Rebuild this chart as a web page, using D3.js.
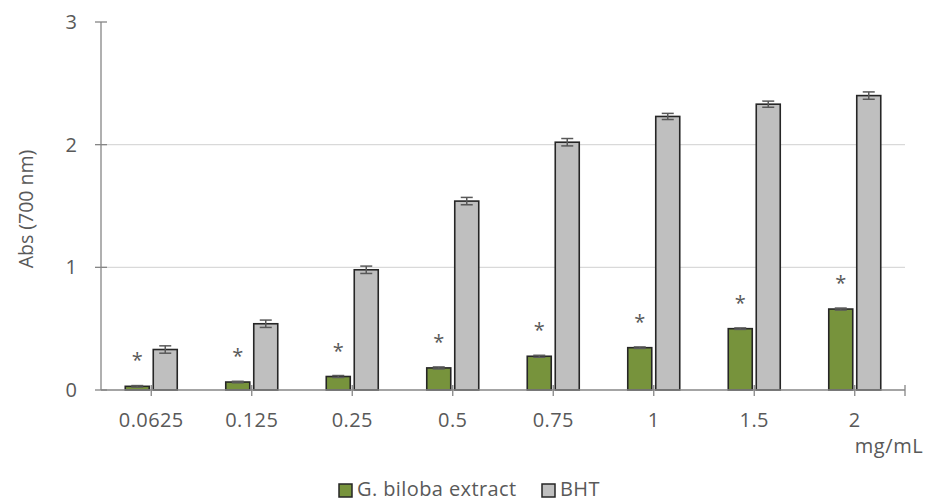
<!DOCTYPE html>
<html>
<head>
<meta charset="utf-8">
<script src="https://cdn.jsdelivr.net/npm/d3@7"></script>
<style>
  html, body { margin: 0; padding: 0; background: #fff; }
  svg { display: block; }
  text { font-family: "Open Sans", "DejaVu Sans", sans-serif; fill: #595959; }
</style>
</head>
<body>
<svg id="chart" width="929" height="501"></svg>
<script>
// Concentrations tested
const categories = ["0.0625", "0.125", "0.25", "0.5", "0.75", "1", "1.5", "2"];
// Reducing power, absorbance at 700 nm
const seriesNames = ["G. biloba extract", "BHT"];
const gbilobaValues = [0.03, 0.065, 0.11, 0.18, 0.275, 0.345, 0.50, 0.66];
const gbilobaErrors = [0.006, 0.006, 0.008, 0.008, 0.008, 0.006, 0.006, 0.008];
const bhtValues = [0.33, 0.54, 0.98, 1.54, 2.02, 2.23, 2.33, 2.40];
const bhtErrors = [0.03, 0.03, 0.03, 0.03, 0.03, 0.025, 0.025, 0.03];
// Significance marks placed over the extract bars
const markLabels = ["*", "*", "*", "*", "*", "*", "*", "*"];
const yTicks = [0, 1, 2, 3];
const colors = ["#77933C", "#BFBFBF"];

const svg = d3.select("#chart");
const plotLeft = 101, plotRight = 905, plotTop = 22, plotBottom = 390;

const x0 = d3.scaleBand().domain(categories).range([plotLeft, plotRight]).padding(0);
const bw = x0.bandwidth();
const x1 = d3.scaleBand().domain(seriesNames)
  .range([bw / 2 - 26, bw / 2 + 26]).paddingInner(2 - 52 / 28).paddingOuter(0);
const y = d3.scaleLinear().domain([0, 3]).range([plotBottom, plotTop]);

// Gridlines
svg.append("g").selectAll("line").data(yTicks.filter(t => t > 0 && t < 3)).join("line")
  .attr("x1", plotLeft).attr("x2", plotRight)
  .attr("y1", d => y(d)).attr("y2", d => y(d))
  .attr("stroke", "#D9D9D9").attr("stroke-width", 1.3);

const rows = categories.map((c, i) => ({
  cat: c,
  vals: [
    { s: seriesNames[0], v: gbilobaValues[i], e: gbilobaErrors[i] },
    { s: seriesNames[1], v: bhtValues[i], e: bhtErrors[i] }
  ],
  mark: markLabels[i]
}));

const groups = svg.append("g").selectAll("g").data(rows).join("g")
  .attr("transform", d => `translate(${x0(d.cat)},0)`);

groups.selectAll("rect").data(d => d.vals).join("rect")
  .attr("x", d => x1(d.s))
  .attr("width", x1.bandwidth())
  .attr("y", d => y(d.v))
  .attr("height", d => y(0) - y(d.v))
  .attr("fill", (d, i) => colors[i])
  .attr("stroke", "#262626").attr("stroke-width", 1.6);

// Error bars
const eb = groups.selectAll("g.err").data(d => d.vals).join("g").attr("class", "err");
eb.append("line")
  .attr("x1", d => x1(d.s) + x1.bandwidth() / 2).attr("x2", d => x1(d.s) + x1.bandwidth() / 2)
  .attr("y1", d => y(d.v + d.e)).attr("y2", d => y(d.v - d.e))
  .attr("stroke", "#595959").attr("stroke-width", 1.5);
eb.selectAll("line.cap").data(d => [d.v + d.e, d.v - d.e].map(v => ({ s: d.s, v }))).join("line")
  .attr("class", "cap")
  .attr("x1", d => x1(d.s) + x1.bandwidth() / 2 - 6).attr("x2", d => x1(d.s) + x1.bandwidth() / 2 + 6)
  .attr("y1", d => y(d.v)).attr("y2", d => y(d.v))
  .attr("stroke", "#595959").attr("stroke-width", 1.5);

// Significance marks
groups.append("text")
  .attr("x", x1(seriesNames[0]) + x1.bandwidth() / 2)
  .attr("y", d => y(d.vals[0].v) - 19)
  .attr("text-anchor", "middle")
  .style("font-size", "20px")
  .text(d => d.mark);

// Axes
const axisColor = "#868686";
svg.append("line").attr("x1", plotLeft).attr("x2", plotLeft).attr("y1", plotTop).attr("y2", plotBottom)
  .attr("stroke", axisColor).attr("stroke-width", 1.3);
svg.append("line").attr("x1", plotLeft).attr("x2", plotRight).attr("y1", plotBottom).attr("y2", plotBottom)
  .attr("stroke", axisColor).attr("stroke-width", 1.3);

svg.append("g").selectAll("line").data(yTicks).join("line")
  .attr("x1", plotLeft - 6).attr("x2", plotLeft + 6)
  .attr("y1", d => y(d)).attr("y2", d => y(d))
  .attr("stroke", axisColor).attr("stroke-width", 1.3);
svg.append("g").selectAll("text").data(yTicks).join("text")
  .attr("x", plotLeft - 24).attr("y", d => y(d)).attr("dy", "0.35em")
  .attr("text-anchor", "end").style("font-size", "20px")
  .text(d => d);

const xTickPos = categories.map(c => x0(c) + bw / 2).concat([plotRight]);
svg.append("g").selectAll("line").data(xTickPos).join("line")
  .attr("x1", d => d).attr("x2", d => d)
  .attr("y1", plotBottom - 5).attr("y2", plotBottom + 6)
  .attr("stroke", axisColor).attr("stroke-width", 1.3);
svg.append("g").selectAll("text").data(categories).join("text")
  .attr("x", d => x0(d) + bw / 2).attr("y", 420).attr("dy", "0.35em")
  .attr("text-anchor", "middle").style("font-size", "20px").style("letter-spacing", "0.4px")
  .text(d => d);

svg.append("text").attr("x", 889).attr("y", 446).attr("dy", "0.35em")
  .attr("text-anchor", "middle").style("font-size", "20px").style("letter-spacing", "0.6px")
  .text("mg/mL");

svg.append("text")
  .attr("transform", `translate(26,${(plotTop + plotBottom) / 2 + 3}) rotate(-90)`)
  .attr("dy", "0.35em").attr("text-anchor", "middle")
  .style("font-size", "19.5px").text("Abs (700 nm)");

// Legend
const legend = svg.append("g");
const legendItems = [{ name: seriesNames[0], x: 339 }, { name: seriesNames[1], x: 542 }];
legendItems.forEach((d, i) => {
  legend.append("rect").attr("x", d.x).attr("y", 484).attr("width", 13).attr("height", 13)
    .attr("fill", colors[i]).attr("stroke", "#262626").attr("stroke-width", 1.5);
  legend.append("text").attr("x", d.x + 18).attr("y", 495.5)
    .style("font-size", "20px").style("letter-spacing", "0.4px").text(d.name);
});
</script>
</body>
</html>
